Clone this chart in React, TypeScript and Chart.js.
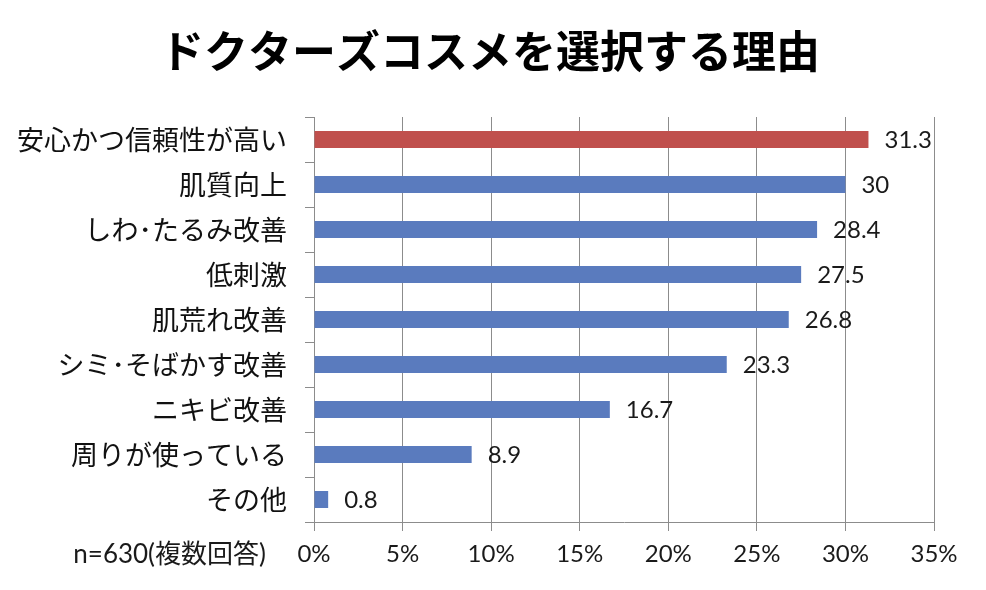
import React, { useEffect, useRef } from "react";
import { Chart, registerables } from "chart.js";

Chart.register(...registerables);

const TITLE = "ドクターズコスメを選択する理由";
const CATEGORIES = [
  "安心かつ信頼性が高い",
  "肌質向上",
  "しわ･たるみ改善",
  "低刺激",
  "肌荒れ改善",
  "シミ･そばかす改善",
  "ニキビ改善",
  "周りが使っている",
  "その他",
];
const VALUES = [31.3, 30, 28.4, 27.5, 26.8, 23.3, 16.7, 8.9, 0.8];
const X_TICKS = [0, 5, 10, 15, 20, 25, 30, 35];
const NOTE = "n=630(複数回答)";

const RED = "#C0504D";
const BLUE = "#5A7BBE";
const GRID = "#8C8C8C";
const NUM_FONT = "Lato, 'Noto Sans CJK JP', sans-serif";
const JP_FONT = "'Noto Sans CJK JP', sans-serif";

export default function App() {
  const ref = useRef<HTMLCanvasElement | null>(null);

  useEffect(() => {
    if (!ref.current) return;
    const labelPlugin = {
      id: "valueLabels",
      afterDatasetsDraw(chart: any) {
        const ctx = chart.ctx;
        const meta = chart.getDatasetMeta(0);
        ctx.save();
        ctx.font = `24px ${NUM_FONT}`;
        ctx.fillStyle = "#1a1a1a";
        ctx.textAlign = "left";
        ctx.textBaseline = "middle";
        meta.data.forEach((bar: any, i: number) => {
          ctx.fillText(String(VALUES[i]), bar.x + 16, bar.y + 1);
        });
        ctx.restore();
      },
      afterDraw(chart: any) {
        const ctx = chart.ctx;
        const xScale = chart.scales.x;
        ctx.save();
        ctx.font = `26px ${NUM_FONT}`;
        ctx.fillStyle = "#1a1a1a";
        ctx.textAlign = "right";
        ctx.textBaseline = "middle";
        ctx.fillText(NOTE, 266, xScale.bottom - 35);
        ctx.font = `bold 44px ${JP_FONT}`;
        ctx.fillStyle = "#000";
        ctx.textAlign = "center";
        ctx.fillText(TITLE, 490, 51);
        ctx.restore();
      },
    };

    const chart = new Chart(ref.current, {
      type: "bar",
      data: {
        labels: CATEGORIES,
        datasets: [
          {
            data: VALUES,
            backgroundColor: VALUES.map((_, i) => (i === 0 ? RED : BLUE)),
            borderWidth: 0,
            categoryPercentage: 1,
            barPercentage: 0.378,
          },
        ],
      },
      options: {
        indexAxis: "y",
        responsive: false,
        animation: false,
        layout: { padding: { left: 0, right: 52, top: 117, bottom: 0 } },
        plugins: {
          legend: { display: false },
          tooltip: { enabled: false },
          title: { display: false },
        },
        scales: {
          x: {
            type: "linear",
            min: 0,
            max: 35,
            afterBuildTicks(scale: any) {
              scale.ticks = X_TICKS.map((v) => ({ value: v }));
            },
            afterFit(scale: any) {
              scale.height = 68;
            },
            ticks: {
              callback: (v: any) => v + "%",
              color: "#1a1a1a",
              font: { family: NUM_FONT, size: 24 },
              padding: 9,
              maxRotation: 0,
            },
            grid: {
              color: GRID,
              lineWidth: 1,
              tickLength: 9,
              drawTicks: true,
            },
            border: { display: true, color: GRID, width: 1 },
          },
          y: {
            type: "category",
            afterFit(scale: any) {
              scale.width = 314;
            },
            ticks: {
              color: "#111",
              font: { family: JP_FONT, size: 27 },
              padding: 18,
              crossAlign: "near",
            },
            grid: {
              color: GRID,
              drawOnChartArea: false,
              drawTicks: true,
              tickLength: 9,
              offset: true,
            },
            border: { display: true, color: GRID, width: 1 },
          },
        },
      },
      plugins: [labelPlugin],
    } as any);
    return () => chart.destroy();
  }, []);

  return (
    <div style={{ position: "fixed", left: 0, top: 0, width: 986, height: 590, background: "#fff" }}>
      <canvas ref={ref} width={986} height={590} style={{ width: 986, height: 590 }} />
    </div>
  );
}
